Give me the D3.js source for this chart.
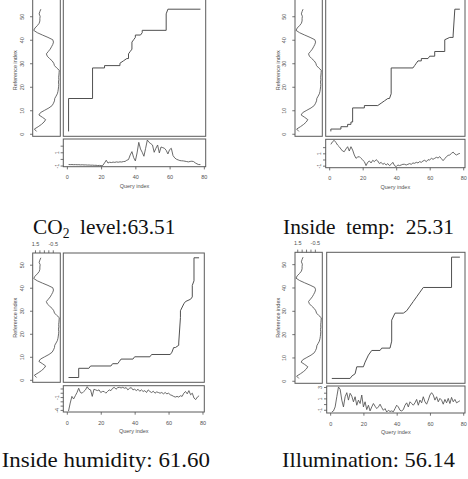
<!DOCTYPE html>
<html>
<head>
<meta charset="utf-8">
<script src="https://cdn.jsdelivr.net/npm/d3@7"></script>
<style>
body { margin: 0; background: #fff; }
</style>
</head>
<body>
<div id="chart-area"></div>
<script>
// Reference series (same in every panel), index 1..53
var reference = [1.32, 1.57, 1.14, 0.77, 0.48, 0.30, 0.66, 1.06, 0.88, 0.41,
    -0.07, -0.43, -0.58, -0.69, -0.72, -0.87, -1.01, -1.08, -1.12, -1.15,
    -1.17, -1.14, -1.18, -1.16, -1.19, -1.21, -1.23, -0.94, -0.69, -0.61,
    -0.43, -0.14, 0.12, 0.22, 0.00, -0.21, -0.36, -0.50, -0.58, -0.50,
    0.04, 0.66, 1.24, 1.64, 1.50, 1.24, 1.03, 0.95, 0.95, 0.92,
    1.03, 0.95, 0.84];

// Query series, index 1..78
var queryCO2 = [-0.84, -0.86, -0.85, -0.87, -0.86, -0.88, -0.87, -0.90, -0.88, -0.91,
    -0.90, -0.93, -0.92, -0.95, -0.94, -0.97, -0.96, -1.00, -0.98, -1.02,
    -0.98, -0.60, -0.20, -0.62, -0.50, -0.55, -0.48, -0.52, -0.45, -0.50,
    -0.44, -0.47, -0.40, -0.38, -0.20, -0.10, 0.60, 1.10, 0.20, -0.30,
    0.90, 2.50, 1.50, 1.00, 0.40, 1.60, 2.85, 2.50, 2.30, 2.10,
    1.00, 1.60, 2.10, 0.90, 1.80, 1.70, 1.60, 1.30, 0.75, 1.40,
    1.60, 0.50, 0.15, -0.05, -0.15, -0.25, -0.28, -0.30, -0.35, -0.40,
    -0.45, -0.38, -0.35, -0.40, -0.60, -0.75, -0.85, -0.85];

var queryTemp = [2.45, 2.88, 3.10, 2.77, 2.34, 2.07, 1.70, 1.37, 1.26, 1.70,
    2.07, 1.37, 2.07, 1.53, 0.73, 0.19, 0.40, 0.46, 0.19, -0.08,
    -0.35, -0.99, -0.46, -0.24, -0.56, -0.13, -0.35, -0.03, -0.24, -0.67,
    -0.46, -0.78, -0.62, -0.89, -0.67, -0.99, -0.78, -0.46, -0.99, -1.16,
    -0.89, -0.99, -0.89, -0.78, -0.78, -0.89, -0.78, -0.67, -0.78, -0.56,
    -0.62, -0.46, -0.56, -0.35, -0.46, -0.24, -0.13, -0.35, -0.03, -0.08,
    0.19, 0.03, 0.19, 0.35, 0.24, 0.46, 0.13, -0.19, 0.13, 0.46,
    0.67, 0.73, 0.99, 1.20, 0.89, 0.73, 0.89, 0.99];

var queryHumidity = [-4.26, -2.40, -0.85, -1.45, -0.70, 0.06, 1.05, 0.06, -0.10, 0.30,
    0.67, 1.42, 0.82, 0.67, -0.85, 0.82, 0.67, 0.50, 0.67, 0.06,
    0.30, 0.30, -0.10, 0.30, 0.67, 0.50, 1.05, 1.27, 0.82, 1.20,
    1.27, 1.12, 1.27, 1.05, 1.20, 0.67, 1.05, 1.20, 0.67, 0.82,
    0.50, 0.82, 0.36, 0.67, 0.30, 0.50, 0.06, 0.67, 0.30, 0.06,
    0.36, -0.10, 0.20, 0.06, -0.10, 0.06, -0.25, 0.06, -0.25, -0.10,
    -0.47, -0.62, -0.85, -1.00, -0.85, -1.00, -0.70, -0.85, -0.10, 0.30,
    -0.25, 0.50, -0.47, -0.10, -1.23, -1.60, -1.00, -0.70];

var queryIllum = [-1.39, -1.20, -0.50, 1.29, 3.00, 2.60, 0.70, -0.50, 1.29, 2.00,
    0.70, 1.89, 1.41, 0.40, 1.29, -0.20, 0.70, 0.10, 1.59, -0.50,
    0.40, -0.97, -0.20, -1.20, -0.50, 0.10, -0.37, -0.79, -0.50, -0.02,
    -0.61, -1.09, -0.79, -1.39, -1.09, -1.30, -1.20, -1.35, -0.79, -0.20,
    -0.50, -1.09, -1.20, -0.97, -0.20, 0.22, -0.50, 0.40, 0.10, -0.20,
    0.22, 0.82, -0.20, 0.70, 0.22, 1.29, 0.40, -0.02, 0.70, 1.59,
    2.00, 1.59, 0.70, 1.29, 0.40, 1.00, 0.70, -0.02, 0.82, 0.22,
    1.00, 0.10, 1.17, 0.40, 0.82, 0.22, 0.40, 0.58];

// Warping paths: [query index, reference index]
var pathCO2 = [[1,1],[1,15],[15,15],[15,28],[22,28],[22,29],[31,29],[31,30],[33,31],[35,32],
    [36,32],[36,34],[37,35],[38,36],[38,39],[39,40],[40,41],[40,42],[43,42],[44,43],
    [44,44],[58,44],[58,51],[59,53],[78,53]];

var pathTemp = [[1,1],[1,2],[7,2],[7,3],[11,3],[11,4],[13,4],[13,5],[14,5],[14,11],
    [21,11],[21,12],[29,12],[31,13],[33,14],[35,15],[36,15],[37,17],[37,28],[50,28],
    [51,29],[52,30],[53,31],[55,31],[55,32],[59,32],[60,33],[63,33],[63,35],[69,35],
    [69,40],[72,41],[74,41],[74,42],[75,53],[78,53]];

var pathHumidity = [[1,1],[7,1],[7,5],[13,5],[14,6],[26,6],[27,7],[30,7],[31,8],[32,9],
    [39,9],[40,10],[49,10],[50,11],[61,11],[62,12],[63,14],[64,14],[66,15],[66,16],
    [67,27],[67,30],[69,33],[70,34],[73,35],[74,36],[74,41],[75,43],[75,53],[78,53]];

var pathIllum = [[1,1],[12,1],[13,2],[15,3],[16,6],[20,6],[21,8],[23,11],[25,13],[30,13],
    [31,14],[36,14],[37,17],[37,26],[39,29],[44,29],[46,30],[48,32],[50,34],[52,36],
    [54,38],[56,40],[73,40],[73,53],[78,53]];

// Tick values and labels
var refTicks = [0, 10, 20, 30, 40, 50];
var queryTicks = [0, 20, 40, 60, 80];
var stripTicks = [1.5, 1, 0.5, 0, -0.5];
var stripLabels = [1.5, -0.5];
var qTicksCO2 = [-1, 0, 1, 2], qLabelsCO2 = [-1, 1];
var qTicksTemp = [-1, 0, 1, 2], qLabelsTemp = [-1, 1];
var qTicksHumidity = [-4, -3, -2, -1, 0, 1], qLabelsHumidity = [-4, -1];
var qTicksIllum = [-1, 0, 1, 2, 3], qLabelsIllum = [-1, 1, 3];

// Captions (pieces; "sub" = subscript)
var captionCO2 = [["CO", ""], ["2", "sub"], ["  level:63.51", ""]];
var captionTemp = [["Inside  temp:  25.31", ""]];
var captionHumidity = [["Inside humidity: 61.60", ""]];
var captionIllum = [["Illumination: 56.14", ""]];

var width = 468, height = 479;
var axisFont = "'Liberation Sans', Arial, sans-serif";
var ink = "#505050";

var svg = d3.select("#chart-area").append("svg")
    .attr("width", width)
    .attr("height", height);

svg.append("rect")
    .attr("width", width)
    .attr("height", height)
    .attr("fill", "#fff");

// panel layout (pixel boxes); the top row is cropped at the picture's top edge
var layout = [
    { query: queryCO2, path: pathCO2, qTicks: qTicksCO2, qLabels: qLabelsCO2, caption: captionCO2,
      stripL: 32.7, stripR: 60.3, mainL: 63.3, mainR: 205.7, top: 4.3, frameTop: -1, bottom: 136.3,
      qTop: 139, qBottom: 166.7, capL: 33, capR: 175.5, capY: 234 },
    { query: queryTemp, path: pathTemp, qTicks: qTicksTemp, qLabels: qLabelsTemp, caption: captionTemp,
      stripL: 295, stripR: 322.3, mainL: 325.7, mainR: 465, top: 4.3, frameTop: -1, bottom: 136.3,
      qTop: 139.3, qBottom: 167.7, capL: 283, capR: 454, capY: 234 },
    { query: queryHumidity, path: pathHumidity, qTicks: qTicksHumidity, qLabels: qLabelsHumidity, caption: captionHumidity,
      stripL: 32.7, stripR: 60.3, mainL: 63.3, mainR: 204.3, top: 253, frameTop: 253, bottom: 382.3,
      qTop: 385.7, qBottom: 412, capL: 1.7, capR: 210, capY: 466.5 },
    { query: queryIllum, path: pathIllum, qTicks: qTicksIllum, qLabels: qLabelsIllum, caption: captionIllum,
      stripL: 295, stripR: 322.3, mainL: 326.7, mainR: 465, top: 252.3, frameTop: 252.3, bottom: 383.3,
      qTop: 386, qBottom: 413, capL: 282, capR: 455, capY: 466.5 }
];

// R style 4% range extension
function pad(ext) {
    var d = (ext[1] - ext[0]) * 0.04;
    return [ext[0] - d, ext[1] + d];
}

function styleAxis(a) {
    a.attr("font-family", axisFont)
        .attr("font-size", 5.5)
        .attr("color", ink);
    a.select(".domain").remove();
    a.selectAll(".tick line").attr("stroke-width", 0.8);
}

layout.forEach(function(p) {
    var g = svg.append("g");

    // Scales
    var x = d3.scaleLinear()
        .domain(pad([1, p.query.length]))
        .range([p.mainL, p.mainR]);
    var y = d3.scaleLinear()
        .domain(pad([1, reference.length]))
        .range([p.bottom, p.top]);
    var xs = d3.scaleLinear()
        .domain(pad(d3.extent(reference)).reverse())
        .range([p.stripL, p.stripR]);
    var yq = d3.scaleLinear()
        .domain(pad(d3.extent(p.query)))
        .range([p.qBottom, p.qTop]);

    // Frames
    [[p.stripL, p.frameTop, p.stripR, p.bottom],
     [p.mainL, p.frameTop, p.mainR, p.bottom],
     [p.mainL, p.qTop, p.mainR, p.qBottom]].forEach(function(b) {
        g.append("rect")
            .attr("x", b[0])
            .attr("y", b[1])
            .attr("width", b[2] - b[0])
            .attr("height", b[3] - b[1])
            .attr("fill", "none")
            .attr("stroke", "#5a5a5a")
            .attr("stroke-width", 1);
    });

    // Reference index axis
    g.append("g")
        .attr("transform", "translate(" + p.stripL + ",0)")
        .call(d3.axisLeft(y).tickValues(refTicks).tickSize(2.7).tickFormat(function(d) { return d; }))
        .call(styleAxis)
        .selectAll("text")
            .attr("x", null)
            .attr("dy", null)
            .attr("text-anchor", "middle")
            .attr("transform", "translate(-9,0) rotate(-90)");

    g.append("text")
        .attr("transform", "translate(" + (p.stripL - 15.5) + "," + ((p.top + p.bottom) / 2) + ") rotate(-90)")
        .attr("text-anchor", "middle")
        .attr("font-family", axisFont)
        .attr("font-size", 5.5)
        .attr("fill", ink)
        .text("Reference index");

    // Strip value axis (top), only where it is not cropped away
    if (p.frameTop > 0) {
        g.append("g")
            .attr("transform", "translate(0," + p.frameTop + ")")
            .call(d3.axisTop(xs).tickValues(stripTicks).tickSize(2.7).tickPadding(4.6)
                .tickFormat(function(d) { return stripLabels.indexOf(d) >= 0 ? d : ""; }))
            .call(styleAxis);
    }

    // Query axes
    g.append("g")
        .attr("transform", "translate(0," + p.qBottom + ")")
        .call(d3.axisBottom(x).tickValues(queryTicks).tickSize(2.7).tickPadding(6.2)
            .tickFormat(function(d) { return d; }))
        .call(styleAxis);

    g.append("text")
        .attr("x", (p.mainL + p.mainR) / 2)
        .attr("y", p.qBottom + 21)
        .attr("text-anchor", "middle")
        .attr("font-family", axisFont)
        .attr("font-size", 5.5)
        .attr("fill", ink)
        .text("Query index");

    g.append("g")
        .attr("transform", "translate(" + p.mainL + ",0)")
        .call(d3.axisLeft(yq).tickValues(p.qTicks).tickSize(2.7)
            .tickFormat(function(d) { return p.qLabels.indexOf(d) >= 0 ? d : ""; }))
        .call(styleAxis)
        .selectAll("text")
            .attr("x", null)
            .attr("dy", null)
            .attr("text-anchor", "middle")
            .attr("transform", "translate(-4.5,0) rotate(-90)");

    // Lines
    var refLine = d3.line()
        .x(function(d) { return xs(d); })
        .y(function(d, i) { return y(i + 1); });
    var queryLine = d3.line()
        .x(function(d, i) { return x(i + 1); })
        .y(function(d) { return yq(d); });
    var warpLine = d3.line()
        .x(function(d) { return x(d[0]); })
        .y(function(d) { return y(d[1]); });

    g.append("path").attr("d", refLine(reference))
        .attr("fill", "none").attr("stroke", ink).attr("stroke-width", 0.85);
    g.append("path").attr("d", queryLine(p.query))
        .attr("fill", "none").attr("stroke", ink).attr("stroke-width", 0.85);
    g.append("path").attr("d", warpLine(p.path))
        .attr("fill", "none").attr("stroke", ink).attr("stroke-width", 1);

    // Caption
    var cap = svg.append("text")
        .attr("font-family", "'Liberation Serif', 'Times New Roman', serif")
        .attr("font-size", 22)
        .attr("fill", "#111")
        .style("white-space", "pre");
    p.caption.forEach(function(c) {
        var t = cap.append("tspan").text(c[0]);
        if (c[1] === "sub") {
            t.attr("font-size", 14).attr("dy", 4);
        } else if (cap.selectAll("tspan").size() > 1) {
            t.attr("dy", -4);
        }
    });
    var len = cap.node().getComputedTextLength();
    cap.attr("transform", "translate(" + p.capL + "," + p.capY + ") scale(" + ((p.capR - p.capL) / len) + ",1)");
});
</script>
</body>
</html>
